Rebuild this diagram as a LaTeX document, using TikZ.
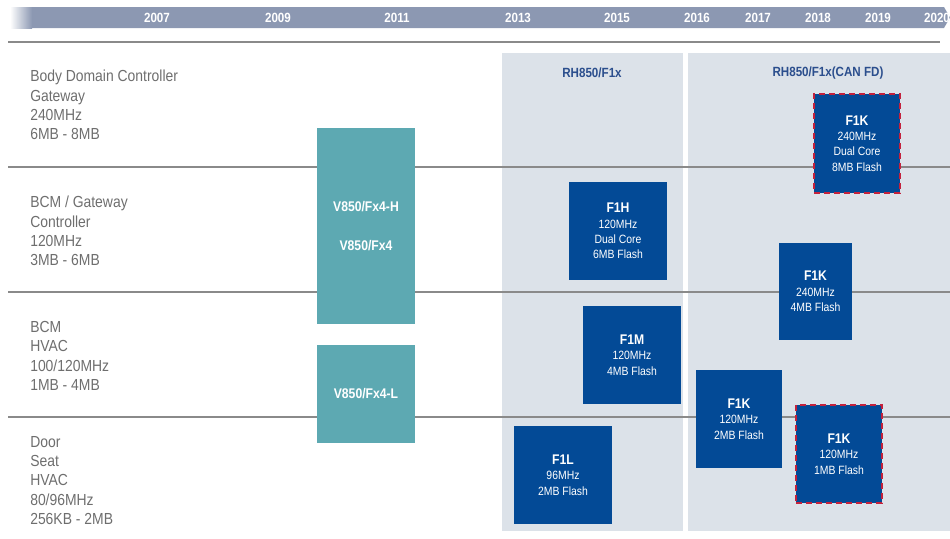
\documentclass[tikz,border=0pt]{standalone}
\usepackage{fontspec}
\setmainfont[FakeStretch=0.87]{Liberation Sans}
\definecolor{panelc}{HTML}{DCE2E9}
\definecolor{barc}{HTML}{8C98B2}
\definecolor{tealc}{HTML}{5DA9B2}
\definecolor{chipc}{HTML}{034A96}
\definecolor{redc}{HTML}{C3213C}
\definecolor{linec}{HTML}{8A8A8A}
\definecolor{labc}{HTML}{6E6E6E}
\definecolor{titc}{HTML}{2B4E8D}
\tikzset{
  rowlab/.style={anchor=north west, inner sep=0, align=left, text=labc, font=\fontsize{12}{14.5}\selectfont},
  yearlab/.style={text=white, inner sep=0, font=\bfseries\fontsize{10}{12}\selectfont},
  ptitle/.style={text=titc, inner sep=0, font=\bfseries\fontsize{10}{12}\selectfont},
  chip/.style={fill=chipc, text=white, inner sep=0, align=center, font=\fontsize{9}{11.6}\selectfont},
  newchip/.style={chip, draw=redc, line width=1.5pt, dash pattern=on 4.5pt off 3pt},
  teal/.style={fill=tealc, text=white, inner sep=0, align=center, font=\bfseries\fontsize{10.5}{12}\selectfont},
  rowline/.style={draw=linec, line width=1.2pt},
}
\newcommand{\ctitle}[1]{{\bfseries\fontsize{10.5}{11.6}\selectfont #1}}
\begin{document}
\begin{tikzpicture}[x=0.75pt,y=-0.75pt]
\useasboundingbox (0,0) rectangle (950,539);
% panels
\fill[panelc] (502,53) rectangle (683,531);
\fill[panelc] (688,53) rectangle (950,531);
% top bar
\shade[left color=white, right color=barc] (10,7) rectangle (32,28);
\fill[barc] (32,7) -- (944,7) -- (950,17.5) -- (944,28) -- (32,28) -- cycle;
\foreach \x/\y in {157/2007,278/2009,397/2011,518/2013,617/2015,697/2016,758/2017,818/2018,878/2019,937/2020}
  \node[yearlab] (y\y) at (\x,18) {\y};
\draw[rowline] (8,42) -- (940,42);
% row lines
\draw[rowline] (8,167) -- (950,167);
\draw[rowline] (8,292) -- (950,292);
\draw[rowline] (8,417) -- (950,417);
% row labels
\node[rowlab] (r1) at (30,70) {Body Domain Controller\\Gateway\\240MHz\\6MB - 8MB};
\node[rowlab] (r2) at (30,196) {BCM / Gateway\\Controller\\120MHz\\3MB - 6MB};
\node[rowlab] (r3) at (30,321) {BCM\\HVAC\\100/120MHz\\1MB - 4MB};
\node[rowlab] (r4) at (30,436) {Door\\Seat\\HVAC\\80/96MHz\\256KB - 2MB};
% panel titles
\node[ptitle] (p1) at (592,73) {RH850/F1x};
\node[ptitle] (p2) at (828,73) {RH850/F1x(CAN FD)};
% teal boxes
\node[teal, minimum width=73.5pt, minimum height=147pt] (v1) at (366,226) {V850/Fx4-H\\[17pt]V850/Fx4};
\node[teal, minimum width=73.5pt, minimum height=73.5pt] (v2) at (366,394) {V850/Fx4-L};
% chips
\node[chip, minimum width=73.5pt, minimum height=73.5pt] (f1h) at (618,231) {\ctitle{F1H}\\120MHz\\Dual Core\\6MB Flash};
\node[chip, minimum width=73.5pt, minimum height=73.5pt] (f1m) at (632,355) {\ctitle{F1M}\\120MHz\\4MB Flash};
\node[chip, minimum width=73.5pt, minimum height=73.5pt] (f1l) at (563,475) {\ctitle{F1L}\\96MHz\\2MB Flash};
\node[newchip, minimum width=64.5pt, minimum height=74.25pt] (k8) at (857,143.5) {\ctitle{F1K}\\240MHz\\Dual Core\\8MB Flash};
\node[chip, minimum width=54.75pt, minimum height=72.75pt] (k4) at (815.5,291.5) {\ctitle{F1K}\\240MHz\\4MB Flash};
\node[chip, minimum width=64.5pt, minimum height=73.5pt] (k2) at (739,419) {\ctitle{F1K}\\120MHz\\2MB Flash};
\node[newchip, minimum width=64.5pt, minimum height=73.5pt] (k1) at (839,454) {\ctitle{F1K}\\120MHz\\1MB Flash};
\end{tikzpicture}
\end{document}
